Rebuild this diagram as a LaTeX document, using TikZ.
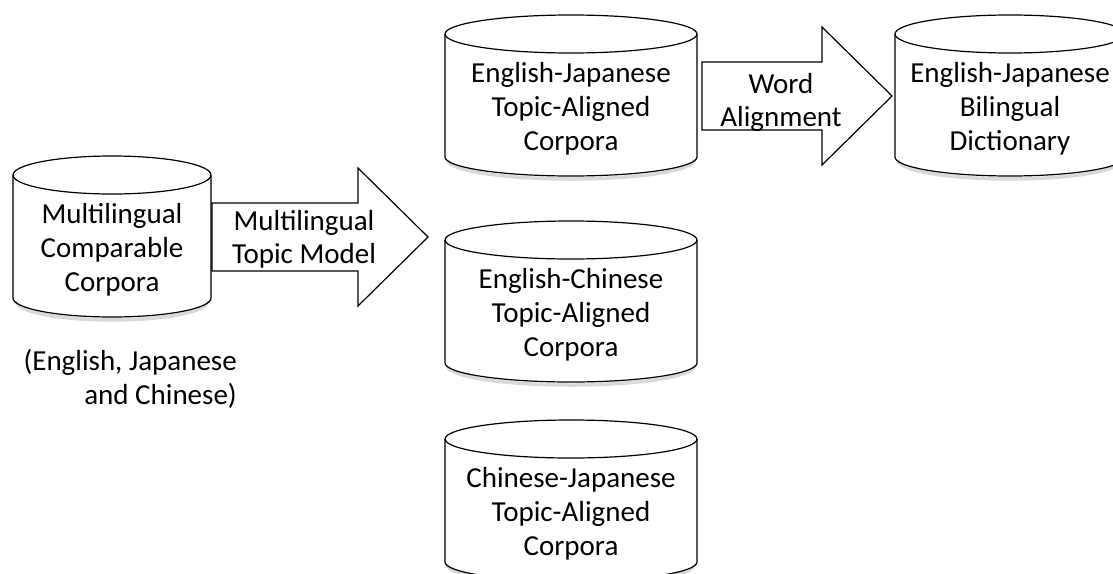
\documentclass[tikz,border=0pt]{standalone}
\usepackage{fontspec}
\setmainfont{Carlito}
\usetikzlibrary{calc}

\tikzset{
  x=1pt, y=1pt,
  cyltext/.style={align=center, inner sep=0pt, font=\fontsize{29}{34}\selectfont},
  arrowtext/.style={align=center, inner sep=0pt, font=\fontsize{29}{33}\selectfont},
  notetext/.style={align=right, inner sep=0pt, font=\fontsize{29}{34}\selectfont},
  cylline/.style={line width=1.2pt, draw=black},
  cylshadow/.style={line width=3.5pt, draw=black, opacity=0.15},
  blockline/.style={line width=1.2pt, draw=black, line join=miter},
}

% Cylinder drawn around a text node: #1 node name, #2 x radius.
% The top rim sits 75 above the text centre, the bottom rim 48 below it.
\newcommand\drawcyl[2]{%
  \draw[cylshadow] ($(#1.center)+(-#2+3,-51)$)
      arc[start angle=180, end angle=360, x radius=#2-3, y radius=19];
  \draw[cylline] ($(#1.center)+(-#2,75)$) -- ($(#1.center)+(-#2,-48)$)
      arc[start angle=180, end angle=360, x radius=#2, y radius=19]
      -- ($(#1.center)+(#2,75)$);
  \draw[cylline] ($(#1.center)+(0,75)$) ellipse[x radius=#2, y radius=19];
}

% Block arrow from a start point to a tip on the same height.
\newcommand\blockarrow[2]{%
  \draw[blockline] let \p1=(#1), \p2=(#2) in
    (\x1,\y1+34pt) -- (\x2-70pt,\y1+34pt) -- (\x2-70pt,\y1+69pt)
    -- (\x2,\y1) -- (\x2-70pt,\y1-69pt) -- (\x2-70pt,\y1-34pt)
    -- (\x1,\y1-34pt) -- cycle;
}

\begin{document}
\begin{tikzpicture}
\clip (0,0) rectangle (1113,-573);
\fill[white] (0,0) rectangle (1113,-573);

% corpora and dictionary
\node[cyltext] (src)  at (112,-250)  {Multilingual\\Comparable\\Corpora};
\node[cyltext] (ej)   at (571,-109)  {English-Japanese\\Topic-Aligned\\Corpora};
\node[cyltext] (ec)   at (571,-315)  {English-Chinese\\Topic-Aligned\\Corpora};
\node[cyltext] (cj)   at (571,-514)  {Chinese-Japanese\\Topic-Aligned\\Corpora};
\node[cyltext] (dict) at (1010,-109) {English-Japanese\\Bilingual\\Dictionary};

\drawcyl{src}{99}
\drawcyl{ej}{126}
\drawcyl{ec}{126}
\drawcyl{cj}{126}
\drawcyl{dict}{115}

\node[notetext, anchor=east] (note) at (237,-379) {(English, Japanese\\and Chinese)};

% topic model step
\coordinate (a1s) at ($(src.center)+(100,13)$);
\coordinate (a1t) at ($(a1s -| ec.center)+(-143,0)$);
\blockarrow{a1s}{a1t}
\node[arrowtext] (tm) at ($(a1s)!0.5!(a1t)+(-16,-2)$) {Multilingual\\Topic Model};

% word alignment step
\coordinate (a2s) at ($(ej.center)+(131,13)$);
\coordinate (a2t) at ($(a2s -| dict.center)+(-118,0)$);
\blockarrow{a2s}{a2t}
\node[arrowtext] (wa) at ($(a2s)!0.5!(a2t)+(-16,-6)$) {Word\\Alignment};
\end{tikzpicture}
\end{document}
